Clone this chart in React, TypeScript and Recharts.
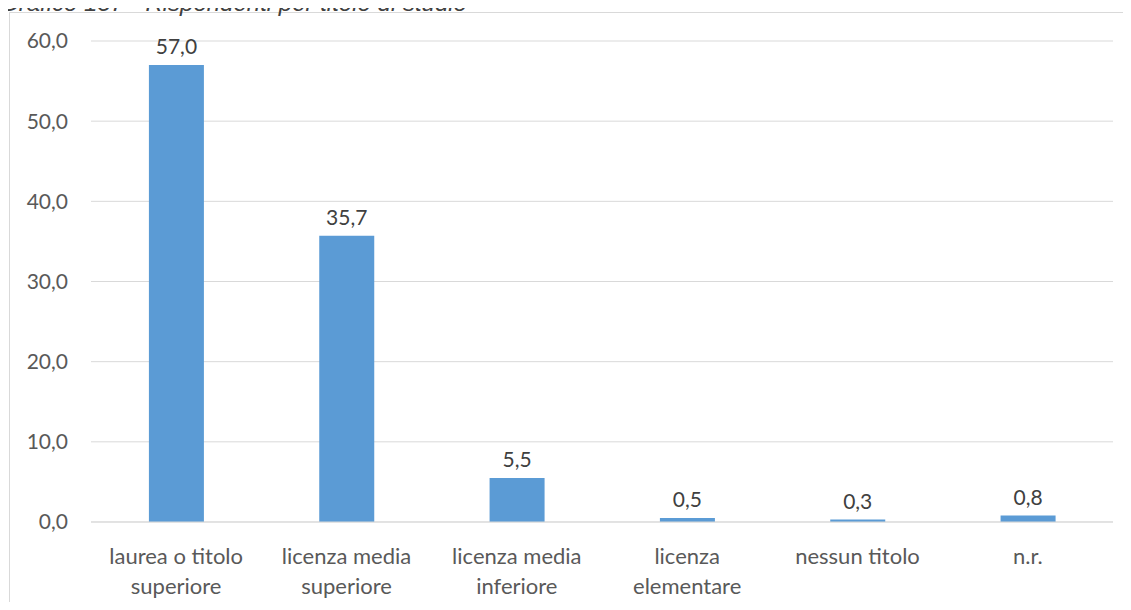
import React from "react";
import { BarChart, Bar, XAxis, YAxis, CartesianGrid, LabelList } from "recharts";

const categories = [
  "laurea o titolo superiore",
  "licenza media superiore",
  "licenza media inferiore",
  "licenza elementare",
  "nessun titolo",
  "n.r.",
];
const categoryLines = [
  ["laurea o titolo", "superiore"],
  ["licenza media", "superiore"],
  ["licenza media", "inferiore"],
  ["licenza", "elementare"],
  ["nessun titolo"],
  ["n.r."],
];
const values = [57.0, 35.7, 5.5, 0.5, 0.3, 0.8];
const yTicks = [0, 10, 20, 30, 40, 50, 60];
const title = "Grafico 137 - Rispondenti per titolo di studio";

const data = categories.map((c, i) => ({ name: c, value: values[i] }));

const FONT = "Lato, 'Open Sans', sans-serif";
const fmt = (v: number) => v.toFixed(1).replace(".", ",");

const XTick = (props: any) => {
  const { x, y, index } = props;
  const lines = categoryLines[index] || [];
  return (
    <text x={x} y={y} textAnchor="middle" fill="#595959" fontSize={22} fontFamily={FONT}>
      {lines.map((l, i) => (
        <tspan key={i} x={x} dy={i === 0 ? 34 : 30}>
          {l}
        </tspan>
      ))}
    </text>
  );
};

export default function App() {
  return (
    <div
      style={{
        position: "relative",
        margin: -8,
        width: 1131,
        height: 610,
        overflow: "hidden",
        background: "#fff",
      }}
    >
      <div
        style={{
          position: "absolute",
          left: 9,
          top: 12,
          width: 1200,
          height: 700,
          border: "1px solid #d9d9d9",
        }}
      />
      <div
        style={{
          position: "absolute",
          left: 0,
          top: -11,
          fontFamily: "'Liberation Sans', Arial, sans-serif",
          fontStyle: "italic",
          fontSize: 24,
          color: "#404040",
          whiteSpace: "nowrap",
          lineHeight: "28px",
        }}
      >
        {title}
      </div>
      <div style={{ position: "absolute", left: 0, top: 0 }}>
        <BarChart
          width={1131}
          height={610}
          data={data}
          margin={{ top: 41, right: 18, bottom: 0, left: 0 }}
          barCategoryGap="34%"
        >
          <CartesianGrid vertical={false} stroke="#d9d9d9" strokeWidth={1} />
          <XAxis
            dataKey="name"
            height={88}
            axisLine={{ stroke: "#d9d9d9" }}
            tickLine={false}
            interval={0}
            tick={<XTick />}
          />
          <YAxis
            width={91}
            domain={[0, 60]}
            ticks={yTicks}
            axisLine={false}
            tickLine={false}
            tickSize={0}
            tickMargin={23}
            tickFormatter={fmt}
            tick={{ fill: "#595959", fontSize: 21, fontFamily: FONT }}
          />
          <Bar dataKey="value" fill="#5b9bd5" isAnimationActive={false}>
            <LabelList
              dataKey="value"
              position="top"
              offset={11}
              formatter={(v: any) => fmt(Number(v))}
              fill="#404040"
              fontSize={21}
              fontFamily={FONT}
            />
          </Bar>
        </BarChart>
      </div>
    </div>
  );
}
